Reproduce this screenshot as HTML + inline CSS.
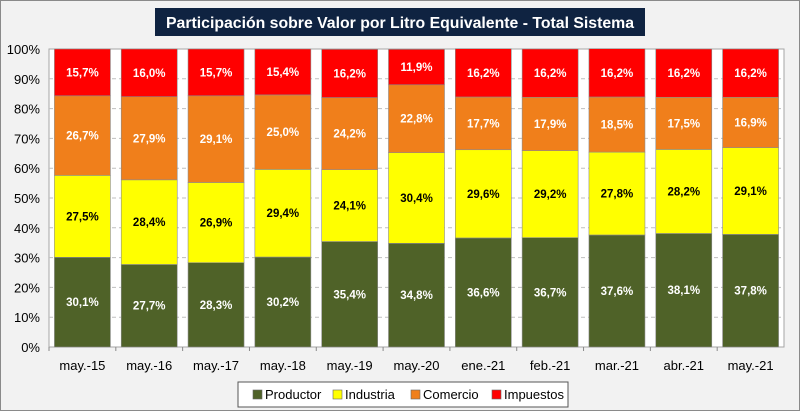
<!DOCTYPE html>
<html><head><meta charset="utf-8"><style>
body{margin:0;width:800px;height:411px;overflow:hidden;font-family:"Liberation Sans",sans-serif}
#wrap{position:absolute;left:0;top:0;width:798px;height:409px;background:#f2f2f2;border:1px solid #8a8a8a}
</style></head><body>
<div id="wrap">
<svg id="chart" width="800" height="411" style="position:absolute;left:-1px;top:-1px"></svg>
</div>
<script>
const categories=["may.-15","may.-16","may.-17","may.-18","may.-19","may.-20","ene.-21","feb.-21","mar.-21","abr.-21","may.-21"];
const productor=[30.1,27.7,28.3,30.2,35.4,34.8,36.6,36.7,37.6,38.1,37.8];
const industria=[27.5,28.4,26.9,29.4,24.1,30.4,29.6,29.2,27.8,28.2,29.1];
const comercio=[26.7,27.9,29.1,25.0,24.2,22.8,17.7,17.9,18.5,17.5,16.9];
const impuestos=[15.7,16.0,15.7,15.4,16.2,11.9,16.2,16.2,16.2,16.2,16.2];
const yTicks=[0,10,20,30,40,50,60,70,80,90,100];
const seriesNames=["Productor","Industria","Comercio","Impuestos"];
const NS="http://www.w3.org/2000/svg";
const svg=document.getElementById('chart');
const L=49,T=49,R=784,B=347;
const y=v=>B-(v/100)*(B-T);
const band=(R-L)/categories.length;
const x=i=>L+i*band;
function mk(t,a,p){const e=document.createElementNS(NS,t);for(const k in a)e.setAttribute(k,a[k]);(p||svg).appendChild(e);return e;}
const tb=mk('rect',{x:155,y:8,width:490,height:28,fill:'#0f2341'});


const tt=mk('text',{x:400,y:28,'text-anchor':'middle',fill:'#fff','font-size':16,'font-weight':'bold',textLength:468,lengthAdjust:'spacingAndGlyphs'});
tt.textContent='Participación sobre Valor por Litro Equivalente - Total Sistema';


const pa=mk('rect',{x:L,y:T,width:R-L,height:B-T,fill:'#fff',stroke:'#a6a6a6'});


yTicks.forEach(v=>{
 if(v>0&&v<100){const g=mk('line',{x1:L,x2:R,y1:y(v),y2:y(v),stroke:'#bfbfbf','stroke-dasharray':'4,3'});
 
 }
 const t=mk('text',{x:40,y:y(v)+5,'text-anchor':'end','font-size':13,fill:'#000'});
 t.textContent=v+'%';
 
 
});
const colors=['#4f6228','#ffff00','#f07f1b','#ff0000'];
const txtCol=['#fff','#000','#fff','#fff'];
const data=[productor,industria,comercio,impuestos];
const bw=56;
categories.forEach((c,i)=>{
 let acc=0;
 const bx=x(i)+(band-bw)/2;
 data.forEach((s,k)=>{
  const v=s[i];
  const r=mk('rect',{x:bx,y:y(acc+v),width:bw,height:y(acc)-y(acc+v),fill:colors[k],stroke:'#8c8c8c','stroke-width':0.6});
  
  
  const t=mk('text',{x:bx+bw/2,y:(y(acc)+y(acc+v))/2+4,'text-anchor':'middle','font-size':11.5,'font-weight':'bold',fill:txtCol[k]});
  t.textContent=v.toFixed(1).replace('.',',')+'%';
  
  
  acc+=v;
 });
 const tk=mk('line',{x1:x(i),x2:x(i),y1:B,y2:B+4,stroke:'#888'});
 
 
 const xl=mk('text',{x:x(i)+band/2,y:370,'text-anchor':'middle','font-size':13,fill:'#000'});
 xl.textContent=c;
 
 
});
const lg=mk('rect',{x:238,y:382,width:330,height:25,fill:'#fff',stroke:'#555'});


const lx=[253,333,411,492];
seriesNames.forEach((n,k)=>{
 const sw=mk('rect',{x:lx[k],y:390,width:9,height:9,fill:colors[k],stroke:'#666','stroke-width':0.6});
 
 
 const t=mk('text',{x:lx[k]+12,y:399,'font-size':13,fill:'#000'});
 t.textContent=n;
 
 
});
</script>
</body></html>
